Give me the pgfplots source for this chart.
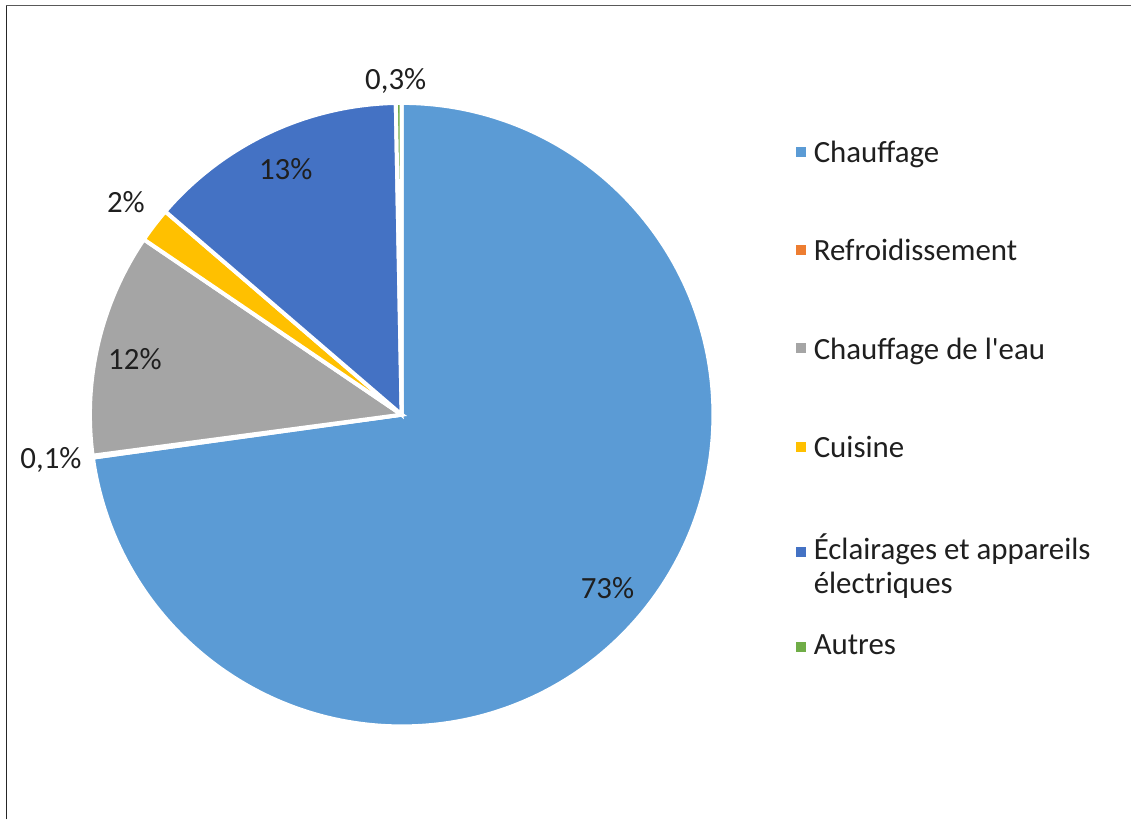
\documentclass[border=0pt]{standalone}
\usepackage{fontspec}
\setmainfont{Carlito}[Ligatures=TeXOff]
\usepackage{pgfplots}
\usepackage{pgfplotstable}
\pgfplotsset{compat=1.18}

\definecolor{cChauf}{HTML}{5B9BD5}
\definecolor{cRefr}{HTML}{ED7D31}
\definecolor{cEau}{HTML}{A5A5A5}
\definecolor{cCuis}{HTML}{FFC000}
\definecolor{cEcl}{HTML}{4472C4}
\definecolor{cAut}{HTML}{70AD47}
\definecolor{txt}{HTML}{1F1F1F}

\pgfplotstableread[col sep=comma]{
name,value,color
Chauffage,72.8,cChauf
Refroidissement,0.1,cRefr
Chauffage de l'eau,11.6,cEau
Cuisine,1.8,cCuis
Éclairages et appareils électriques,13.4,cEcl
Autres,0.3,cAut
}\piedata

\begin{document}
\begin{tikzpicture}[lab/.style={font=\fontsize{15.45}{18}\selectfont, text=txt, inner sep=0pt}]
\begin{axis}[
  width=566pt, height=410pt, scale only axis,
  xmin=0, xmax=1132, ymin=0, ymax=820,
  hide axis, clip=false,
]
% background (pixel coordinates, y measured upward)
\fill[white] (axis cs:0,0) rectangle (axis cs:1132,820);
\draw[black!85, line width=0.75pt] (axis cs:6.5,0) -- (axis cs:6.5,814.5);
\draw[black!65, line width=0.9pt] (axis cs:6,814.5) -- (axis cs:1132,814.5);

% pie slices from the table
\xdef\curang{90}
\foreach \i in {0,...,5} {
  \pgfplotstablegetelem{\i}{value}\of\piedata \let\v\pgfplotsretval
  \pgfplotstablegetelem{\i}{color}\of\piedata \let\c\pgfplotsretval
  \pgfmathsetmacro\a{\curang}
  \pgfmathsetmacro\b{\curang-3.6*\v}
  \xdef\curang{\b}
  \edef\cmd{\noexpand\fill[\c, draw=white, line width=2pt, line join=miter]
    (axis cs:402,405) -- ++(\a:156pt) arc[start angle=\a, end angle=\b, radius=156pt] -- cycle;}
  \cmd
}

% data labels
\node[lab, anchor=base] at (axis cs:608,221) {73\%};
\node[lab, anchor=base] at (axis cs:51,351) {0,1\%};
\node[lab, anchor=base] at (axis cs:135,450) {12\%};
\node[lab, anchor=base] at (axis cs:126,607) {2\%};
\node[lab, anchor=base] at (axis cs:286,640) {13\%};
\node[lab, anchor=base] at (axis cs:396,730) {0,3\%};

% legend
\fill[cChauf] (axis cs:797,663) rectangle (axis cs:807,673);
\node[lab, anchor=base west] at (axis cs:814,657.7) {Chauffage};
\fill[cRefr] (axis cs:797,565) rectangle (axis cs:807,575);
\node[lab, anchor=base west] at (axis cs:814,559) {Refroidissement};
\fill[cEau] (axis cs:797,466.5) rectangle (axis cs:807,476.5);
\node[lab, anchor=base west] at (axis cs:814,460.5) {Chauffage de l'eau};
\fill[cCuis] (axis cs:797,368) rectangle (axis cs:807,378);
\node[lab, anchor=base west] at (axis cs:814,362) {Cuisine};
\fill[cEcl] (axis cs:797,263) rectangle (axis cs:807,273);
\node[lab, anchor=base west] at (axis cs:814,260) {Éclairages et appareils};
\node[lab, anchor=base west] at (axis cs:814,226) {électriques};
\fill[cAut] (axis cs:797,167.5) rectangle (axis cs:807,177.5);
\node[lab, anchor=base west] at (axis cs:814,165) {Autres};
\end{axis}
\end{tikzpicture}
\end{document}
